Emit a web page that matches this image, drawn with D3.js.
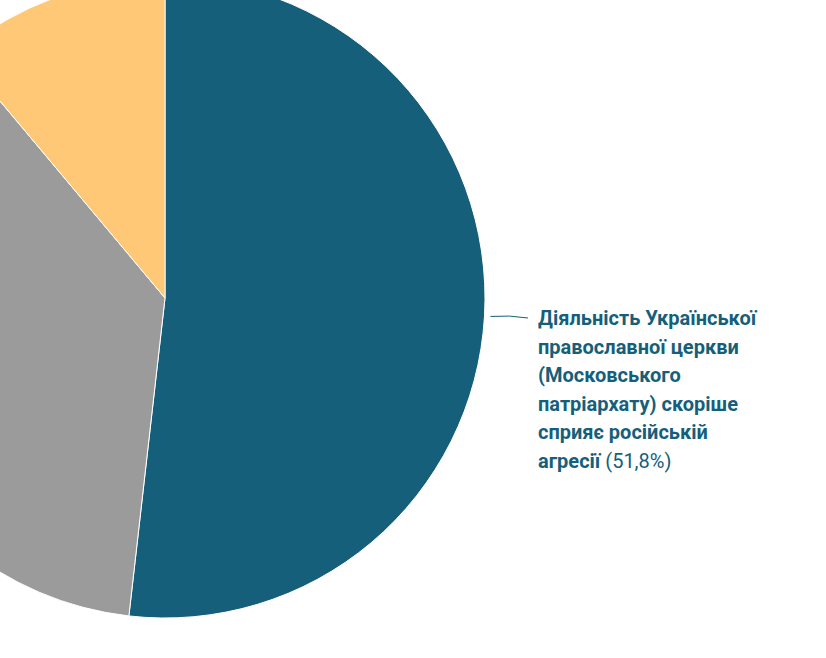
<!DOCTYPE html>
<html><head><meta charset="utf-8">
<script src="https://cdn.jsdelivr.net/npm/d3@7"></script>
<style>body{margin:0;background:#fff}</style></head>
<body><svg id="c" width="826" height="658"></svg>
<script>
const categories = ["Діяльність Української православної церкви (Московського патріархату) скоріше сприяє російській агресії", "Інше", "Важко сказати"];
const values = [51.8, 37.1, 11.1];
const colors = ["#165f7a", "#9b9b9b", "#fec877"];
const svg = d3.select("#c");
const cx = 165, cy = 298, r = 320;
const g = svg.append("g").attr("transform", `translate(${cx},${cy})`);
const pie = d3.pie().sort(null).value(d => d)(values);
const arc = d3.arc().innerRadius(0).outerRadius(r);
g.selectAll("path").data(pie).enter().append("path")
  .attr("d", arc).attr("fill", (d, i) => colors[i])
  .attr("stroke", "#fff").attr("stroke-width", 1);
const a = (pie[0].startAngle + pie[0].endAngle) / 2;
const px = cx + Math.sin(a) * (r + 6), py = cy - Math.cos(a) * (r + 6);
svg.append("path").attr("d", `M${px},${py} Q510,315 528,318`).attr("fill", "none").attr("stroke", "#165f7a").attr("stroke-width", 1);
const lines = ["Діяльність Української", "православної церкви", "(Московського", "патріархату) скоріше", "сприяє російській", "агресії"];
const t = svg.append("text").attr("font-family", "Roboto").attr("font-size", 20).attr("fill", "#165f7a");
lines.forEach((l, i) => {
  const ts = t.append("tspan").attr("x", 538).attr("y", 325 + i * 28.5).attr("font-weight", "bold").text(l);
  if (i === lines.length - 1) t.append("tspan").attr("font-weight", "normal").text(" (" + String(values[0]).replace(".", ",") + "%)");
});
</script></body></html>
